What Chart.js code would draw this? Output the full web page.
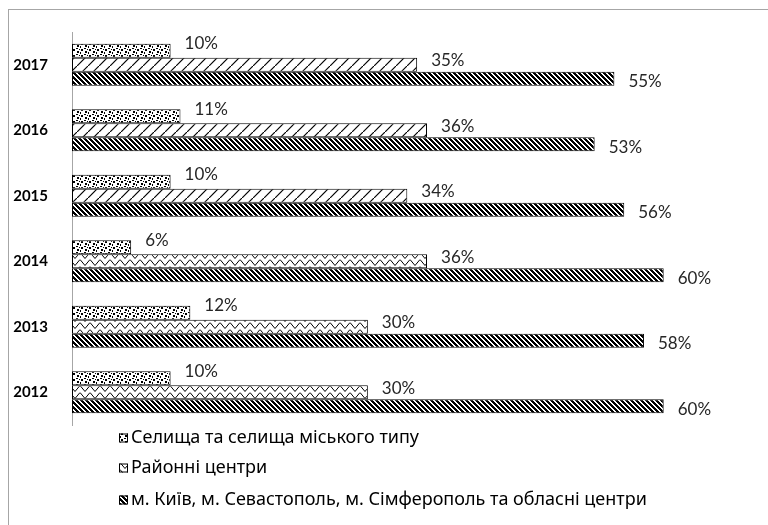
<!DOCTYPE html>
<html>
<head>
<meta charset="utf-8">
<script src="https://cdn.jsdelivr.net/npm/chart.js@4/dist/chart.umd.min.js"></script>
<style>
  html, body { margin: 0; padding: 0; background: #fff; }
  #wrap { position: relative; width: 768px; height: 525px; overflow: hidden; }
  #frame { position: absolute; left: 8px; top: 9px; width: 780px; height: 540px; border: 1px solid #a6a6a6; box-sizing: border-box; }
  canvas { position: absolute; left: 0; top: 0; }
</style>
</head>
<body>
<div id="wrap">
  <div id="frame"></div>
  <canvas id="chart" width="768" height="525"></canvas>
</div>
<script>
// === Dati ===
const years = ["2017", "2016", "2015", "2014", "2013", "2012"];
const seriesNames = [
  "Селища та селища міського типу",
  "Районні центри",
  "м. Київ, м. Севастополь, м. Сімферополь та обласні центри"
];
const villages = [10, 11, 10, 6, 12, 10];
const districtCentres = [35, 36, 34, 36, 30, 30];
const bigCities = [55, 53, 56, 60, 58, 60];

// === Pattern ===
function tile(w, h, draw) {
  const c = document.createElement("canvas");
  c.width = w; c.height = h;
  const g = c.getContext("2d");
  g.fillStyle = "#fff";
  g.fillRect(0, 0, w, h);
  g.fillStyle = "#000";
  g.strokeStyle = "#000";
  draw(g);
  return g.createPattern(c, "repeat");
}

const confetti = tile(8, 6, g => {
  g.fillRect(1, 1, 2, 2);
  g.fillRect(5, 3, 2, 2);
  g.fillRect(4, 0, 2, 1);
  g.fillRect(0, 4, 1, 2);
  g.fillRect(7, 1, 1, 1);
});

const wideUpDiag = tile(11, 11, g => {
  g.lineWidth = 1.2;
  g.beginPath();
  g.moveTo(0, 11); g.lineTo(11, 0);
  g.stroke();
});

const zigzag = tile(10, 7, g => {
  g.lineWidth = 1;
  g.beginPath();
  g.moveTo(0, 0.5); g.lineTo(5, 6.5); g.lineTo(10, 0.5);
  g.stroke();
});

const darkDownDiag = tile(5, 5, g => {
  for (let x = 0; x < 5; x++) {
    for (let y = 0; y < 5; y++) {
      if (((x - y) % 5 + 5) % 5 < 3) g.fillRect(x, y, 1, 1);
    }
  }
});

const districtFill = years.map(y => Number(y) >= 2015 ? wideUpDiag : zigzag);
const legendFill = [confetti, zigzag, darkDownDiag];

// === Etichette dati ===
const labelOffsets = [-7, -4, 3];
const valueLabels = {
  id: "valueLabels",
  afterDatasetsDraw(chart) {
    const ctx = chart.ctx;
    ctx.save();
    ctx.font = "17px Lato";
    ctx.fillStyle = "#262626";
    ctx.textAlign = "left";
    ctx.textBaseline = "middle";
    chart.data.datasets.forEach((ds, i) => {
      chart.getDatasetMeta(i).data.forEach((bar, j) => {
        ctx.fillText(ds.data[j] + "%", bar.x + 14, bar.y + labelOffsets[i]);
      });
    });
    ctx.restore();
  }
};

// === Legenda ===
const bottomLegend = {
  id: "bottomLegend",
  afterDraw(chart) {
    const ctx = chart.ctx;
    const rows = [438, 468, 500];
    ctx.save();
    ctx.font = "18px 'Noto Sans'";
    ctx.textBaseline = "middle";
    seriesNames.forEach((name, i) => {
      const y = rows[i];
      ctx.fillStyle = legendFill[i];
      ctx.fillRect(119, y - 4.5, 9, 9);
      ctx.strokeStyle = "#000";
      ctx.lineWidth = 1;
      ctx.strokeRect(119.5, y - 4, 8, 8);
      ctx.fillStyle = "#000";
      ctx.fillText(name, 131, y);
    });
    ctx.restore();
  }
};

new Chart(document.getElementById("chart"), {
  type: "bar",
  data: {
    labels: years,
    datasets: [
      { label: seriesNames[0], data: villages, backgroundColor: confetti },
      { label: seriesNames[1], data: districtCentres, backgroundColor: districtFill },
      { label: seriesNames[2], data: bigCities, backgroundColor: darkDownDiag }
    ]
  },
  options: {
    indexAxis: "y",
    responsive: false,
    animation: false,
    devicePixelRatio: 1,
    layout: { padding: { left: 0, right: 55, top: 32, bottom: 100 } },
    datasets: {
      bar: {
        borderColor: "#000",
        borderWidth: 1,
        borderSkipped: false,
        categoryPercentage: 0.64,
        barPercentage: 1
      }
    },
    scales: {
      x: { display: false, min: 0, max: 65 },
      y: {
        grid: { display: false },
        border: { display: true, color: "#a6a6a6", width: 1 },
        ticks: { color: "#000", font: { family: "Lato", size: 15, weight: "bold" }, padding: 16 },
        afterFit(scale) { scale.width = 72; }
      }
    },
    plugins: {
      legend: { display: false },
      tooltip: { enabled: false }
    }
  },
  plugins: [valueLabels, bottomLegend]
});
</script>
</body>
</html>
